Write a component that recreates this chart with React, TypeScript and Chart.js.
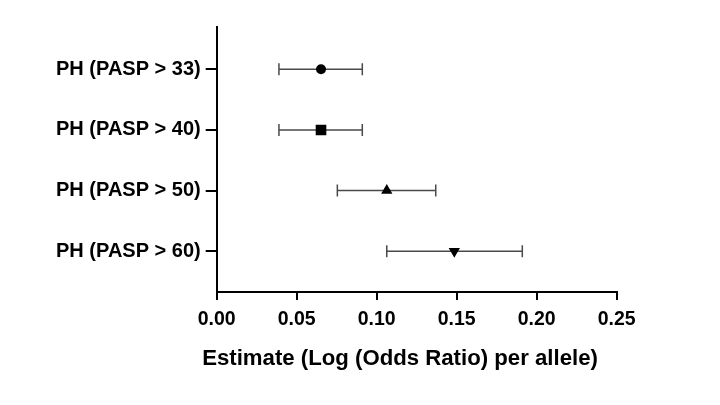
import React, { useEffect, useRef } from "react";
import { Chart, registerables } from "chart.js";

Chart.register(...registerables);

const categories = ["PH (PASP > 33)", "PH (PASP > 40)", "PH (PASP > 50)", "PH (PASP > 60)"];
const estimates = [0.0652, 0.0652, 0.1063, 0.1485];
const lower = [0.0389, 0.0389, 0.0754, 0.1063];
const upper = [0.091, 0.091, 0.1369, 0.191];
const markerStyles = ["circle", "rect", "triangle", "triangle"];
const markerRotations = [0, 0, 0, 180];
const markerSizes = [5, 7.5, 6.5, 6.5];
const xTickStep = 0.05;
const axisTitle = "Estimate (Log (Odds Ratio) per allele)";

const FONT = '"Liberation Sans", Arial, Helvetica, sans-serif';

const errorBars = {
  id: "errorBars",
  beforeDatasetsDraw(chart: any) {
    const { ctx, scales } = chart;
    const x = scales.x;
    const y = scales.y;
    ctx.save();
    ctx.strokeStyle = "#4a4a4a";
    ctx.lineWidth = 1.5;
    estimates.forEach((_, i) => {
      const yp = y.getPixelForValue(i);
      const x1 = x.getPixelForValue(lower[i]);
      const x2 = x.getPixelForValue(upper[i]);
      ctx.beginPath();
      ctx.moveTo(x1, yp);
      ctx.lineTo(x2, yp);
      ctx.moveTo(x1, yp - 6);
      ctx.lineTo(x1, yp + 6);
      ctx.moveTo(x2, yp - 6);
      ctx.lineTo(x2, yp + 6);
      ctx.stroke();
    });
    ctx.restore();
  },
};

const xAxisTitle = {
  id: "xAxisTitle",
  afterDraw(chart: any) {
    const { ctx, chartArea } = chart;
    ctx.save();
    ctx.fillStyle = "#000";
    ctx.font = `bold 22.2px ${FONT}`;
    ctx.textAlign = "center";
    ctx.textBaseline = "alphabetic";
    const cx = (chartArea.left + chartArea.right) / 2 - 16.7;
    ctx.fillText(axisTitle, cx, chartArea.bottom + 73);
    ctx.restore();
  },
};

export default function App() {
  const ref = useRef<HTMLCanvasElement>(null);
  useEffect(() => {
    if (!ref.current) return;
    const chart = new Chart(ref.current, {
      type: "scatter",
      data: {
        datasets: [
          {
            data: estimates.map((v, i) => ({ x: v, y: i })),
            pointStyle: markerStyles as any,
            rotation: markerRotations,
            pointRadius: markerSizes,
            pointHoverRadius: markerSizes,
            backgroundColor: "#000",
            borderColor: "#000",
            borderWidth: 0,
          },
        ],
      },
      options: {
        animation: false,
        responsive: true,
        maintainAspectRatio: false,
        layout: { padding: { top: 27, right: 103.3, bottom: 0, left: 0 } },
        plugins: { legend: { display: false }, tooltip: { enabled: false } },
        scales: {
          x: {
            type: "linear",
            min: 0,
            max: 0.25,
            afterFit: (s: any) => {
              s.height = 113;
            },
            ticks: {
              stepSize: xTickStep,
              color: "#000",
              padding: 8,
              font: { family: FONT, size: 19.5, weight: "bold" },
              callback: (v: any) => Number(v).toFixed(2),
            },
            grid: { drawOnChartArea: false, drawTicks: true, tickLength: 8, color: "#000", lineWidth: 2 },
            border: { color: "#000", width: 2 },
          },
          y: {
            type: "linear",
            reverse: true,
            min: -0.697,
            max: 3.671,
            afterFit: (s: any) => {
              s.width = 216.7;
            },
            afterBuildTicks: (s: any) => {
              s.ticks = categories.map((_, i) => ({ value: i }));
            },
            ticks: {
              color: "#000",
              padding: 5,
              font: { family: FONT, size: 20, weight: "bold" },
              callback: (v: any) => categories[Math.round(Number(v))] ?? "",
            },
            grid: { drawOnChartArea: false, drawTicks: true, tickLength: 11, color: "#000", lineWidth: 2 },
            border: { color: "#000", width: 2 },
          },
        },
      },
      plugins: [errorBars, xAxisTitle],
    });
    return () => chart.destroy();
  }, []);
  return (
    <div style={{ position: "absolute", left: 0, top: 0, width: 720, height: 405, background: "#fff" }}>
      <canvas ref={ref} />
    </div>
  );
}
